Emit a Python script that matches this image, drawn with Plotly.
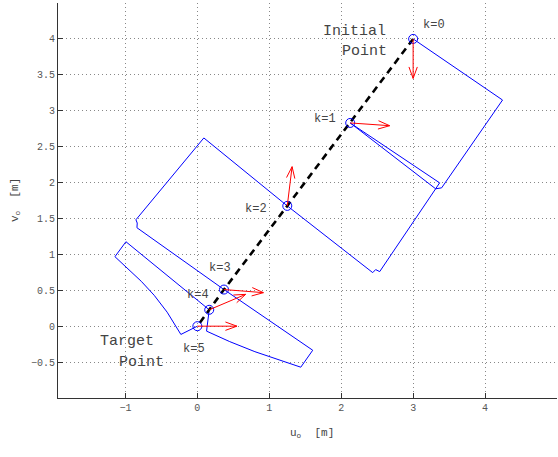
import numpy as np
import plotly.graph_objects as go

# Sampled trajectory of the object frame origin (k = 0 .. 5)
traj_u = [3.0, 2.125, 1.25, 0.37, 0.165, 0.0]
traj_v = [4.0, 2.83, 1.675, 0.51, 0.228, 0.0]
heading_deg = [-90.0, -4.0, 83.0, -4.5, 23.0, 0.0]
step_labels = ["k=0", "k=1", "k=2", "k=3", "k=4", "k=5"]

# Swept regions between consecutive samples (vertices between k and k+1)
region_01_u = [4.243, 3.396, 3.313]
region_01_v = [3.149, 1.926, 1.913]
region_12_u = [3.368, 3.313, 2.535, 2.479, 2.438]
region_12_v = [1.996, 1.913, 0.760, 0.788, 0.746]
region_23_u = [0.090, -0.854, -0.836, -0.840]
region_23_v = [2.621, 1.482, 1.436, 1.371]
region_34_u = [1.604, 1.438, 1.15, 0.80, 0.45, 0.128]
region_34_v = [-0.335, -0.571, -0.475, -0.355, -0.215, -0.069]
region_45_u = [-0.993, -1.146, -0.96, -0.78, -0.60, -0.42, -0.229]
region_45_v = [1.176, 0.968, 0.800, 0.625, 0.430, 0.195, -0.115]

x_ticks = [-1, 0, 1, 2, 3, 4, 5]
y_ticks = [-0.5, 0, 0.5, 1, 1.5, 2, 2.5, 3, 3.5, 4]
y_tick_text = ["\u22120.5", "0", "0.5", "1", "1.5", "2", "2.5", "3", "3.5", "4"]

ARROW_LEN = 0.55
HEAD_LEN = 0.17
HEAD_ANG = np.deg2rad(20)
MONO = "Liberation Mono"
TXT = "#444444"

fig = go.Figure()

# region outlines; the edge from k to k+1 lies under the path and is not drawn
regions = [
    (region_01_u, region_01_v),
    (region_12_u, region_12_v),
    (region_23_u, region_23_v),
    (region_34_u, region_34_v),
    (region_45_u, region_45_v),
]
for k, (ru, rv) in enumerate(regions):
    pu = [traj_u[k]] + ru + [traj_u[k + 1]]
    pv = [traj_v[k]] + rv + [traj_v[k + 1]]
    fig.add_trace(go.Scatter(x=pu, y=pv, mode="lines",
                             line=dict(color="#0000ff", width=1),
                             hoverinfo="skip", showlegend=False))

# straight-line path from initial to target point
fig.add_trace(go.Scatter(x=traj_u, y=traj_v, mode="lines",
                         line=dict(color="black", width=2.6, dash="7px,5px"),
                         hoverinfo="skip", showlegend=False))

fig.add_trace(go.Scatter(x=traj_u, y=traj_v, mode="markers",
                         marker=dict(symbol="circle-open", size=9,
                                     color="#0000ff", line=dict(width=1)),
                         hoverinfo="skip", showlegend=False))

# heading arrows
ax, ay = [], []
for u, v, d in zip(traj_u, traj_v, heading_deg):
    t = np.deg2rad(d)
    tu, tv = u + ARROW_LEN * np.cos(t), v + ARROW_LEN * np.sin(t)
    ax += [u, tu, None]
    ay += [v, tv, None]
    for s in (1, -1):
        ax += [tu, tu - HEAD_LEN * np.cos(t + s * HEAD_ANG), None]
        ay += [tv, tv - HEAD_LEN * np.sin(t + s * HEAD_ANG), None]
fig.add_trace(go.Scatter(x=ax, y=ay, mode="lines",
                         line=dict(color="#ff0000", width=1),
                         hoverinfo="skip", showlegend=False))

# step labels, offset in pixels from each sample
label_shift = [(21, 14), (-25, 4), (-31, -3), (-4, 22), (-11, 15), (-3, -23)]
for u, v, txt, (dx, dy) in zip(traj_u, traj_v, step_labels, label_shift):
    fig.add_annotation(x=u, y=v, text=txt, showarrow=False,
                       xshift=dx, yshift=dy,
                       font=dict(family=MONO, size=12, color=TXT))

for txt, u, v in [("Initial", 1.725, 4.11), ("Point", 1.979, 3.82),
                  ("Target", -1.378, -0.208), ("Point", -1.114, -0.508)]:
    fig.add_annotation(x=u, y=v, text=txt, showarrow=False, xanchor="left",
                       font=dict(family=MONO, size=15, color=TXT))

fig.add_annotation(xref="paper", yref="paper", x=0.509, y=-0.112,
                   text="u<sub>o</sub>\u00a0\u00a0[m]", showarrow=False,
                   font=dict(family=MONO, size=11, color=TXT))
fig.add_annotation(xref="paper", yref="paper", x=-0.102, y=0.50,
                   text="v<sub>o</sub>\u00a0\u00a0[m]", showarrow=False,
                   textangle=-90,
                   font=dict(family=MONO, size=11, color=TXT))

axis_common = dict(
    showgrid=True, gridcolor="#888888", gridwidth=1, griddash="1px,3px",
    zeroline=False, showline=True, linecolor="#333333", linewidth=1,
    ticks="inside", ticklen=5, tickcolor="#333333",
    tickfont=dict(family=MONO, size=10, color="#555555"),
)
fig.update_xaxes(range=[-1.9375, 5.0001], tickvals=x_ticks,
                 ticktext=[str(t) if t >= 0 else "\u2212" + str(-t) for t in x_ticks],
                 **axis_common)
fig.update_yaxes(range=[-1.0, 4.5], tickvals=y_ticks, ticktext=y_tick_text,
                 **axis_common)

fig.update_layout(width=558, height=457,
                  margin=dict(l=58, r=1, t=3, b=59),
                  plot_bgcolor="white", paper_bgcolor="white")

fig.write_html("out.html")
